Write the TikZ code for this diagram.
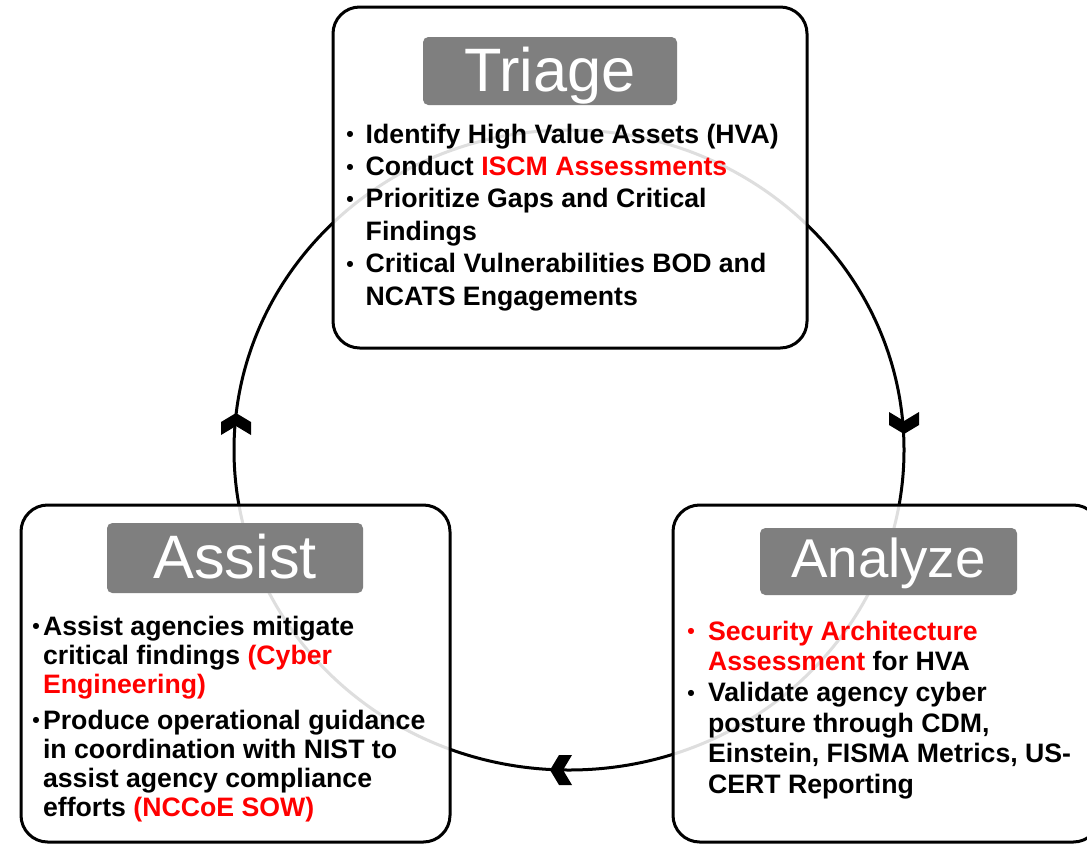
\documentclass[tikz,border=0pt]{standalone}
\usepackage{fontspec}
\setmainfont{Liberation Sans}
\definecolor{titlegray}{HTML}{7F7F7F}
\definecolor{hired}{HTML}{FF0000}
\newcommand{\hl}[1]{\textcolor{hired}{#1}}
\newcommand{\bul}{\raisebox{0.8pt}{\fontsize{16}{16}\selectfont\textbullet}}
\begin{document}
\begin{tikzpicture}[x=0.75pt,y=-0.75pt,
 mainbox/.style={draw=black, line width=2.25pt, rounded corners=20pt, fill=white, fill opacity=0.87, text opacity=1, inner sep=0pt},
 titlebox/.style={fill=titlegray, rounded corners=4pt, text=white, inner sep=0pt},
 bodytext/.style={inner sep=0pt, anchor=base west, align=left},
 cyc/.style={line width=2.25pt, draw=black},
 chev/.pic={\fill[black] (0,0) -- (15,9) -- (15,22) -- (0,13) -- (-15,22) -- (-15,9) -- cycle;},
]
\useasboundingbox (0,0) rectangle (1087,846);
\clip (0,0) rectangle (1087,846);
\fill[white] (0,0) rectangle (1087,846);

% cycle
\draw[cyc] (569,450) ellipse [x radius=251.25pt, y radius=240pt];
\coordinate (tipL) at (236,413);
\coordinate (tipR) at (904,434);
\coordinate (tipB) at (550,770);
\pic at (tipL) {chev};
\pic[rotate=180] at (tipR) {chev};
\pic[rotate=90] at (tipB) {chev};

% main boxes
\node[mainbox, minimum width=355.5pt, minimum height=255.75pt] (triage) at (570,177.5) {};
\node[mainbox, minimum width=321.75pt, minimum height=252.75pt] (assist) at (235.5,673.5) {};
\node[mainbox, minimum width=320.25pt, minimum height=252.75pt] (analyze) at (886.5,673.5) {};

% titles
\node[titlebox, minimum width=190.5pt, minimum height=51pt, text height=40.5pt, text depth=10.5pt,
      font=\fontsize{46}{50}\selectfont] (triageT) at (550,71) {Triage};
\node[titlebox, minimum width=192pt, minimum height=52.5pt, text height=41.25pt, text depth=11.25pt,
      font=\fontsize{46}{50}\selectfont] (assistT) at (235,558) {Assist};
\node[titlebox, minimum width=192.75pt, minimum height=50.25pt, text height=36.75pt, text depth=13.5pt,
      font=\fontsize{41}{45}\selectfont] (analyzeT) at (888.5,561.5) {Analyze};

% body texts
\node[bodytext, font=\bfseries\fontsize{20}{24.3}\selectfont] (triageL) at (346,143) {%
\begin{tabular}[t]{@{}l@{\hspace{9pt}}l@{}}
\bul & Identify High Value Assets (HVA)\\
\bul & Conduct \hl{ISCM Assessments}\\
\bul & Prioritize Gaps and Critical\\
     & Findings\\
\bul & Critical Vulnerabilities BOD and\\
     & NCATS Engagements
\end{tabular}};

\node[bodytext, font=\bfseries\fontsize{20}{21.75}\selectfont] (assistL) at (32,635) {%
\begin{tabular}[t]{@{}l@{\hspace{2.5pt}}l@{}}
\bul & Assist agencies mitigate\\
     & critical findings \hl{(Cyber}\\
     & \hl{Engineering)}\\[5.25pt]
\bul & Produce operational guidance\\
     & in coordination with NIST to\\
     & assist agency compliance\\
     & efforts \hl{(NCCoE SOW)}
\end{tabular}};

\node[bodytext, font=\bfseries\fontsize{20}{23}\selectfont] (analyzeL) at (687,640) {%
\begin{tabular}[t]{@{}l@{\hspace{10pt}}l@{}}
\hl{\bul} & \hl{Security Architecture}\\
          & \hl{Assessment} for HVA\\
\bul & Validate agency cyber\\
     & posture through CDM,\\
     & Einstein, FISMA Metrics, US-\\
     & CERT Reporting
\end{tabular}};
\end{tikzpicture}
\end{document}
